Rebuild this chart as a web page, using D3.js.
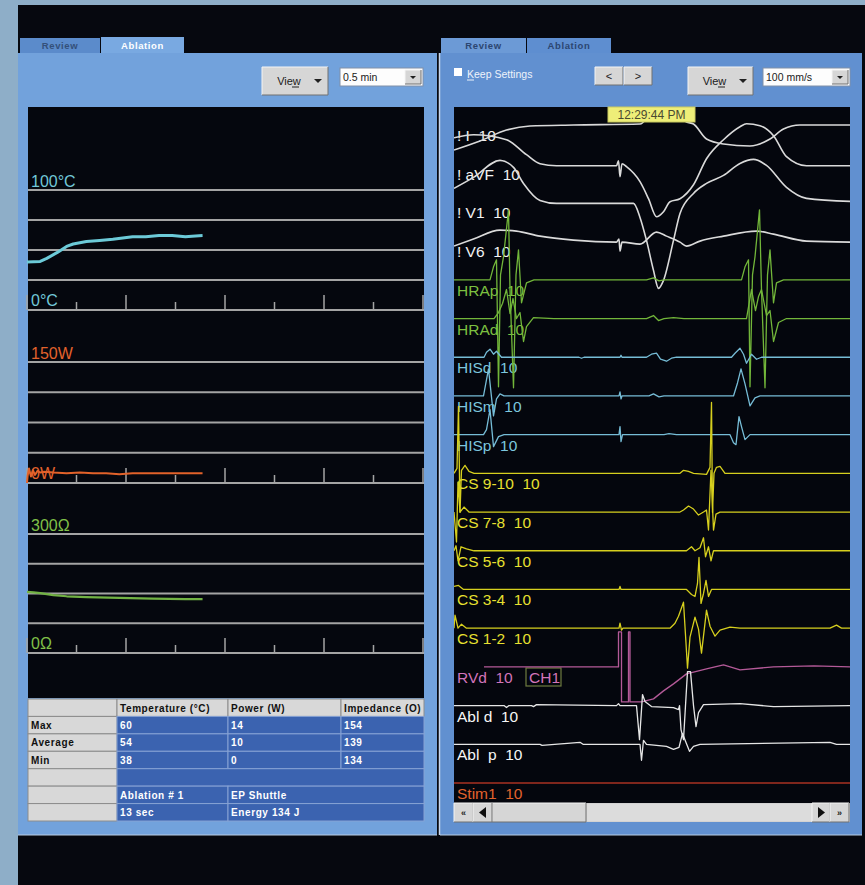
<!DOCTYPE html>
<html><head><meta charset="utf-8">
<script src="https://cdn.jsdelivr.net/npm/d3@7"></script>
<style>
body{margin:0;background:#06080f;}
svg{display:block;font-family:"Liberation Sans",Arial,sans-serif;}
text{white-space:pre;}
</style></head><body><svg id="c" width="865" height="885"></svg>
<script>
// ---------------- DATA ----------------
// Left panel: ablation trends (time in seconds)
const trendTimeDomain = [0, 30];
const majorTicks = [0, 7.5, 15, 22.5, 30];
const minorTicks = [3.75, 11.25, 18.75, 26.25];
const tempTime = [0,1,1.5,2.3,3,3.5,4.5,5.5,6.5,8,9,10,11,12,12.5,13.3];
const tempC    = [40,40.5,43,48,53,55,57,58,59,61,61,62,62,61,61.5,62];
const powerTime = [0,0.05,0.15,0.3,0.45,0.6,0.8,1.0,1.3,2,3,4,5,6,7,8,9,10,11,12,13.3];
const powerW    = [0,9,18,8,16,10,15,13,14,13,12,13,12,12,11,12,12,12,12,12,12];
const impTime = [0,0.5,1,2,3,4.5,7,9.5,12,13.3];
const impOhm  = [154,153,151,146,143,141,139,137,136,136];
const tempGrid  = [0,25,50,75,100];
const powerGrid = [0,37.5,75,112.5,150];
const impGrid   = [0,75,150,225,300];

// Table
const tableHeader = ["", "Temperature (°C)", "Power (W)", "Impedance (O)"];
const statLabels = ["Max","Average","Min"];
const tempStats  = [60,54,38];
const powerStats = [14,10,0];
const impStats   = [154,139,134];
const ablationRow = ["Ablation # 1","EP Shuttle"];
const durationRow = ["13 sec","Energy 134 J"];

// Right panel: channels (time ms, value mV)
const channelNames = ["! I  10","! aVF  10","! V1  10","! V6  10","HRAp  10","HRAd  10","HISd  10","HISm  10","HISp  10",
  "CS 9-10  10","CS 7-8  10","CS 5-6  10","CS 3-4  10","CS 1-2  10","RVd  10","Abl d  10","Abl  p  10","Stim1  10"];
const channelGroup = ["ecg","ecg","ecg","ecg","hra","hra","his","his","his","cs","cs","cs","cs","cs","rv","abl","abl","stim"];
const sweepDomain = [0, 792];

const leadI = [[0,-2.5],[52,-1.6],[105,-0.5],[152,-0.1],[239,0],[372,0.1],[395,1.2],[415,1.6],[440,1.4],[465,0.3],[479,0.1],[505,-1.4],[539,-1.9],[592,-2.1],[632,-1.4],[659,-0.4],[692,0],[792,0]];
const leadAVF = [[0,2.6],[39,2.9],[105,2.4],[145,0.9],[172,0],[205,-0.2],[325,-0.2],[329,0.3],[332,-1.3],[336,0],[345,-0.3],[372,-1.8],[389,-3.5],[405,-5.3],[419,-4.8],[432,-3.8],[452,-3.5],[479,-2.1],[505,0.5],[539,2.4],[572,3.7],[585,4.0],[612,3.8],[639,2.8],[665,0.7],[705,-0.2],[792,-0.2]];
const leadV1 = [[0,1.4],[39,2.5],[92,4.2],[119,3.5],[139,1.9],[172,0.2],[205,-0.1],[359,-0.1],[372,-1.5],[385,-3.8],[399,-6.8],[409,-8.6],[419,-7.8],[439,-3.8],[452,-1.1],[479,0.9],[505,1.9],[539,2.7],[572,3.9],[599,4.3],[625,3.7],[665,1.5],[705,0.4],[792,0.1]];
const leadV6 = [[0,-0.5],[39,0.2],[92,1.1],[125,1.0],[172,0.5],[239,0.1],[325,-0.1],[330,0.2],[332,-1.0],[336,-0.1],[372,-0.3],[405,0.9],[425,0.5],[452,-0.1],[465,-0.5],[492,0],[539,0.5],[605,1.0],[639,0.7],[705,0],[792,-0.1]];
const hrap = [[0,0],[72,0],[79,1.3],[85,2.0],[89,-10.7],[93,0.5],[99,2.3],[109,7.0],[112,-1],[119,-10.8],[124,0.5],[129,3.0],[135,-2.3],[145,-0.3],[160,0],[385,0],[399,0.2],[410,-0.1],[420,0],[575,0],[582,1.3],[589,2.0],[592,-10.7],[597,0.5],[602,2.3],[611,7.0],[615,-1],[622,-10.8],[627,0.5],[632,3.0],[639,-2.3],[645,-0.3],[659,0],[792,0]];
const hrad = [[0,0],[80,0],[89,0.6],[97,1.5],[105,2.9],[112,0.5],[118,2.0],[125,0],[132,0.6],[139,-2.3],[145,-0.8],[159,0.1],[200,0],[385,0],[399,0.3],[409,-0.2],[420,0],[439,0.1],[460,0],[585,0],[595,2.9],[603,0.8],[609,2.2],[615,2.9],[625,0.3],[632,0.8],[639,-2.3],[649,-0.4],[665,0],[792,0]];
const hisd = [[0,0],[60,0],[65,0.5],[72,0.8],[79,0.3],[85,0.6],[95,0],[250,0],[255,-0.1],[260,0],[332,0],[334,0.2],[336,0],[385,0],[395,0.3],[405,0.4],[413,-0.2],[425,-0.4],[435,-0.1],[445,0],[555,0],[562,0.4],[572,0.9],[579,0.3],[585,-0.6],[595,0.3],[605,-0.2],[615,0],[792,0]];
const hism = [[0,0],[59,0],[69,2.7],[79,-2.0],[85,-0.3],[92,0.2],[100,0],[330,0],[332,0.4],[334,-0.3],[336,0],[390,0],[399,0.2],[410,-0.1],[420,0],[559,0],[567,1.3],[574,2.7],[582,1.2],[592,-1.0],[602,-0.2],[612,0],[792,0]];
const hisp = [[0,0],[59,0],[65,0.5],[72,2.5],[79,-1.2],[89,-0.2],[100,0],[330,0],[332,0.8],[334,-0.7],[337,0],[420,0],[430,0.1],[445,0],[552,0],[559,-0.8],[564,-1.0],[570,1.8],[575,0.8],[582,-0.5],[592,0],[792,0]];
const cs910 = [[0,0],[6,0.5],[9,6.7],[12,-3.9],[15,0.3],[22,0.8],[30,0.2],[40,0],[452,0],[459,0.3],[469,0.2],[479,0],[505,-0.1],[512,0.6],[515,7.1],[517,-3.9],[520,0],[525,0.6],[532,0.7],[542,0],[792,0]];
const cs78 = [[0,0],[5,-3],[8,3],[12,0],[20,0.5],[30,0],[452,0],[459,0.2],[469,0.6],[479,0.3],[489,-0.3],[499,0],[505,0.2],[509,-1.8],[514,4.2],[519,-1.8],[524,-0.2],[532,0],[792,0]];
const cs56 = [[0,0],[4,0.5],[8,-1],[14,0.4],[25,0.2],[40,0],[465,0],[475,0.4],[482,0],[492,0.3],[499,1.3],[503,-0.6],[509,0.4],[514,-1.0],[519,0],[792,0]];
const cs34 = [[0,0.3],[9,0.4],[19,0],[330,0],[332,0.3],[334,0],[465,0],[475,-0.5],[482,-0.7],[487,0.6],[490,3.2],[494,-1.4],[499,-0.4],[504,0.9],[509,-0.7],[515,0],[792,0]];
const cs12 = [[0,0],[2,1.3],[8,0],[15,0.4],[25,0],[330,0],[332,0.5],[335,-0.2],[338,0],[432,0],[442,0.5],[449,1.2],[459,2.6],[464,-1.5],[467,-4.0],[472,-0.9],[482,1.1],[489,-0.1],[495,-2.5],[502,0.5],[505,1.8],[512,0.2],[522,-0.8],[532,-0.2],[552,0.1],[572,0],[752,0],[765,0.3],[775,0],[792,0]];
const rvd = [[60,0],[329,0],[329,3.5],[335,3.5],[335,-3.5],[349,-3.5],[349,3.5],[352,3.5],[352,-3.5],[375,-3.5],[399,-3.2],[419,-2.4],[439,-1.7],[465,-0.7],[505,-0.2],[539,0.2],[572,-0.3],[639,0],[720,0.1],[792,0]];
const abld = [[0,0],[100,0],[105,-0.2],[110,0],[155,0],[159,-0.1],[165,0.1],[325,0],[329,0.2],[332,0],[365,0],[371,-3.4],[377,1.1],[382,0.4],[395,-0.1],[439,-0.2],[449,-0.4],[451,0],[454,-2.4],[459,-3.4],[467,3.4],[473,3.4],[479,0],[484,-2.1],[489,-0.7],[499,0.1],[572,0.2],[639,-0.1],[792,0]];
const ablp = [[0,0],[172,0],[176,-0.1],[252,0.2],[258,0],[372,0],[375,-1.6],[379,0.4],[385,0],[425,-0.2],[439,-0.5],[450,-0.3],[457,1.1],[463,0.3],[471,-0.7],[479,-0.2],[492,0],[752,0.2],[765,0],[792,0]];
const stim1 = [[0,0],[792,0]];
const channelData = [leadI,leadAVF,leadV1,leadV6,hrap,hrad,hisd,hism,hisp,cs910,cs78,cs56,cs34,cs12,rvd,abld,ablp,stim1];
const timeLabel = "12:29:44 PM";

// ---------------- STYLE ----------------
const groupStyle = {
  ecg:{label:"#f2f2f2", trace:"#dadada"},
  hra:{label:"#7cc040", trace:"#72b63a"},
  his:{label:"#7cc6de", trace:"#76bcd6"},
  cs:{label:"#e8e030", trace:"#d6cf1e"},
  rv:{label:"#d274ba", trace:"#b45a98"},
  abl:{label:"#f6f6f6", trace:"#e6e6e6"},
  stim:{label:"#e2622c", trace:"#a83222"}
};

const svg = d3.select("#c");
svg.append("rect").attr("width",865).attr("height",885).attr("fill","#06080f");
svg.append("rect").attr("x",0).attr("y",0).attr("width",18).attr("height",885).attr("fill","#8eaec8");
svg.append("rect").attr("x",0).attr("y",0).attr("width",865).attr("height",5).attr("fill","#8eaec8");

function button(g, x, y, w, h, label, arrow){
  g.append("rect").attr("x",x).attr("y",y).attr("width",w).attr("height",h).attr("fill","#d6d6d6");
  g.append("path").attr("d",`M${x},${y+h}V${y}H${x+w}`).attr("stroke","#f4f4f4").attr("fill","none");
  g.append("path").attr("d",`M${x+w},${y}V${y+h}H${x}`).attr("stroke","#707070").attr("fill","none");
  if(label){
    g.append("text").attr("x", arrow ? x+w/2-6 : x+w/2).attr("y",y+h/2+4).attr("text-anchor","middle")
      .attr("font-size",11).attr("fill","#202020").text(label);
  }
  if(arrow){
    const ax = x+w-10, ay = y+h/2;
    g.append("path").attr("d",`M${ax-4},${ay-2}L${ax+4},${ay-2}L${ax},${ay+2}Z`).attr("fill","#202020");
  }
}
function dropdown(g, x, y, w, h, label){
  g.append("rect").attr("x",x).attr("y",y).attr("width",w).attr("height",h).attr("fill","#fdfdfd").attr("stroke","#8090a8");
  g.append("text").attr("x",x+3).attr("y",y+h/2+4).attr("font-size",10.5).attr("fill","#202020").text(label);
  button(g, x+w-18, y+2, 16, h-4, null, false);
  const ax = x+w-10, ay = y+h/2;
  g.append("path").attr("d",`M${ax-3},${ay-1}L${ax+3},${ay-1}L${ax},${ay+2}Z`).attr("fill","#202020");
}
function tab(g, x, y, w, h, label, fill, color){
  g.append("rect").attr("x",x).attr("y",y).attr("width",w).attr("height",h).attr("fill",fill);
  g.append("text").attr("x",x+w/2).attr("y",y+h-4).attr("text-anchor","middle").attr("font-size",9.5)
    .attr("font-weight","bold").attr("letter-spacing",0.6).attr("fill",color).text(label);
}

// ================= LEFT PANEL =================
const L = svg.append("g");
tab(L, 20, 38, 80, 15, "Review", "#5b8bcb", "#34507a");
tab(L, 101, 37, 83, 16, "Ablation", "#79a9e1", "#ffffff");
L.append("rect").attr("x",18).attr("y",53).attr("width",419).attr("height",782).attr("fill","#72a2dc");
L.append("line").attr("x1",18).attr("x2",437).attr("y1",835).attr("y2",835).attr("stroke","#b8cce4");
button(L, 262, 67, 66, 28, "View", true);
L.append("line").attr("x1",292).attr("x2",299).attr("y1",87).attr("y2",87).attr("stroke","#202020");
dropdown(L, 340, 68, 83, 18, "0.5 min");
L.append("rect").attr("x",28).attr("y",107).attr("width",396).attr("height",591).attr("fill","#05070e");

const tx = d3.scaleLinear().domain(trendTimeDomain).range([27,423]);
function trend(domain, range, grid, times, vals, color, topLabel, zeroLabel, labelColor, width){
  const y = d3.scaleLinear().domain(domain).range(range);
  L.selectAll(null).data(grid).enter().append("line")
    .attr("x1",28).attr("x2",424).attr("y1",d=>y(d)).attr("y2",d=>y(d))
    .attr("stroke","#a4a4a4").attr("stroke-width",2);
  L.selectAll(null).data(majorTicks).enter().append("line")
    .attr("x1",d=>tx(d)).attr("x2",d=>tx(d)).attr("y1",y(0)).attr("y2",y(0)-15)
    .attr("stroke","#a4a4a4").attr("stroke-width",1.5);
  L.selectAll(null).data(minorTicks).enter().append("line")
    .attr("x1",d=>tx(d)).attr("x2",d=>tx(d)).attr("y1",y(0)).attr("y2",y(0)-8)
    .attr("stroke","#a4a4a4").attr("stroke-width",1.5);
  L.append("text").attr("x",31).attr("y",y(domain[1])-3).attr("font-size",16).attr("fill",labelColor).text(topLabel);
  L.append("text").attr("x",31).attr("y",y(0)-4).attr("font-size",16).attr("fill",labelColor).text(zeroLabel);
  const line = d3.line().x((d,i)=>tx(times[i])).y(d=>y(d));
  L.append("path").attr("d",line(vals)).attr("fill","none").attr("stroke",color).attr("stroke-width",width)
    .attr("stroke-linejoin","round");
}
trend([0,100],[310,190],tempGrid,tempTime,tempC,"#6ccad8","100°C","0°C","#72c8d8",3);
trend([0,150],[483,362],powerGrid,powerTime,powerW,"#e2622a","150W","0W","#e2622c",2);
trend([0,300],[653,534],impGrid,impTime,impOhm,"#72b244","300Ω","0Ω","#80c048",2.2);

// table
const colX = [28,117,228,341,424];
const rowY = d3.scaleLinear().domain([0,7]).range([699,821]);
function cell(c0, c1, r, kind, txt){
  const x = colX[c0], w = colX[c1]-colX[c0], y = rowY(r), h = rowY(r+1)-rowY(r);
  const gray = kind==="gray";
  L.append("rect").attr("x",x).attr("y",y).attr("width",w).attr("height",h)
    .attr("fill", gray ? "#d8d8d8" : "#3b63b0").attr("stroke", gray ? "#8c8c8c" : "#86a2d4").attr("stroke-width",1);
  if(txt!==undefined && txt!=="") L.append("text").attr("x",x+3).attr("y",y+12.5).attr("font-size",10)
    .attr("font-weight","bold").attr("letter-spacing",0.6).attr("fill", gray ? "#101010" : "#ffffff").text(txt);
}
tableHeader.forEach((h,i)=>cell(i,i+1,0,"gray",h));
statLabels.forEach((s,r)=>{
  cell(0,1,r+1,"gray",s);
  cell(1,2,r+1,"blue",String(tempStats[r]));
  cell(2,3,r+1,"blue",String(powerStats[r]));
  cell(3,4,r+1,"blue",String(impStats[r]));
});
cell(0,1,4,"gray",""); cell(1,4,4,"blue","");
cell(0,1,5,"gray",""); cell(1,2,5,"blue",ablationRow[0]); cell(2,4,5,"blue",ablationRow[1]);
cell(0,1,6,"gray",""); cell(1,2,6,"blue",durationRow[0]); cell(2,4,6,"blue",durationRow[1]);

// ================= RIGHT PANEL =================
const R = svg.append("g");
tab(R, 441, 38, 85, 15, "Review", "#6c9ad6", "#2c4670");
tab(R, 527, 38, 84, 15, "Ablation", "#5e8ed0", "#2c4670");
R.append("rect").attr("x",440).attr("y",53).attr("width",422).attr("height",782).attr("fill","#6190d0");
R.append("line").attr("x1",439.5).attr("x2",439.5).attr("y1",53).attr("y2",835).attr("stroke","#c8d6ea").attr("stroke-width",1.5);
R.append("line").attr("x1",440).attr("x2",862).attr("y1",835).attr("y2",835).attr("stroke","#b8cce4");
R.append("rect").attr("x",454).attr("y",68).attr("width",8).attr("height",8).attr("fill","#ffffff");
R.append("text").attr("x",467).attr("y",78).attr("font-size",10.5).attr("fill","#eef3fb").text("Keep Settings");
R.append("line").attr("x1",467).attr("x2",474).attr("y1",80).attr("y2",80).attr("stroke","#eef3fb");
button(R, 595, 67, 28, 18, "<", false);
button(R, 624, 67, 28, 18, ">", false);
button(R, 688, 67, 65, 28, "View", true);
R.append("line").attr("x1",718).attr("x2",725).attr("y1",87).attr("y2",87).attr("stroke","#202020");
dropdown(R, 763, 68, 87, 18, "100 mm/s");

R.append("rect").attr("x",454).attr("y",107).attr("width",396).attr("height",696).attr("fill","#04060d");
R.append("clipPath").attr("id","sig").append("rect").attr("x",454).attr("y",107).attr("width",396).attr("height",696);

const sx = d3.scaleLinear().domain(sweepDomain).range([454,850]);
const chanY = d3.scaleLinear().domain([0,17]).range([125,783]);

channelNames.forEach((name,i)=>{
  R.append("text").attr("x",457).attr("y",chanY(i)+16).attr("font-size",15.5)
    .attr("fill",groupStyle[channelGroup[i]].label).text(name);
});
R.append("rect").attr("x",526).attr("y",668).attr("width",35).attr("height",18).attr("fill","none")
  .attr("stroke","#6e7c40").attr("stroke-width",1.2);
R.append("text").attr("x",529).attr("y",683).attr("font-size",15.5).attr("fill",groupStyle.rv.label).text("CH1");

const T = R.append("g").attr("clip-path","url(#sig)");
channelData.forEach((data,i)=>{
  const y = d3.scaleLinear().domain([0,1]).range([chanY(i), chanY(i)-10]);
  const isEcg = channelGroup[i]==="ecg";
  const line = d3.line().x(d=>sx(d[0])).y(d=>y(d[1])).curve(isEcg ? d3.curveMonotoneX : d3.curveLinear);
  T.append("path").attr("d",line(data)).attr("fill","none")
    .attr("stroke",groupStyle[channelGroup[i]].trace).attr("stroke-width", isEcg?1.6:1.3)
    .attr("stroke-linejoin","round");
});

R.append("rect").attr("x",608).attr("y",107).attr("width",87).attr("height",15).attr("fill","#eeee78").attr("stroke","#c8c860");
R.append("text").attr("x",651.5).attr("y",119).attr("text-anchor","middle").attr("font-size",12).attr("fill","#4a4a30").text(timeLabel);

// scrollbar
R.append("rect").attr("x",454).attr("y",803).attr("width",396).attr("height",19).attr("fill","#d2d2d2");
R.append("rect").attr("x",587).attr("y",804).attr("width",225).attr("height",17).attr("fill","#dcdcdc");
button(R, 492, 803, 94, 19, null, false);
button(R, 454, 803, 19, 19, null, false);
button(R, 473, 803, 19, 19, null, false);
button(R, 812, 803, 18, 19, null, false);
button(R, 830, 803, 19, 19, null, false);
R.append("path").attr("d","M486,807L479,812.5L486,818Z").attr("fill","#101010");
R.append("path").attr("d","M818,807L825,812.5L818,818Z").attr("fill","#101010");
R.append("text").attr("x",463.5).attr("y",816).attr("text-anchor","middle").attr("font-size",9).attr("font-weight","bold").attr("fill","#202020").text("«");
R.append("text").attr("x",839.5).attr("y",816).attr("text-anchor","middle").attr("font-size",9).attr("font-weight","bold").attr("fill","#202020").text("»");
</script></body></html>
